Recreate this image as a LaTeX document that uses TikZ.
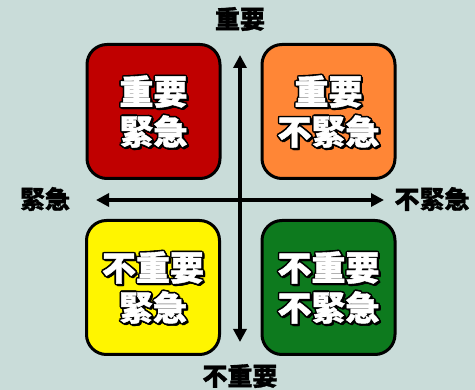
\documentclass[tikz,border=0pt]{standalone}
\usepackage{fontspec}
\newfontfamily\cjk{Noto Sans CJK TC}[FakeBold=1.2]
\usetikzlibrary{arrows.meta,calc}
\definecolor{bg}{HTML}{C9DCD9}
\definecolor{qred}{HTML}{C00000}
\definecolor{qorange}{HTML}{FF8636}
\definecolor{qyellow}{HTML}{FFF500}
\definecolor{qgreen}{HTML}{0D7A1E}
\tikzset{
  quad/.style={draw=black,line width=3pt,rounded corners=20pt,minimum width=133pt,minimum height=134pt,inner sep=0pt},
  qtext/.style={font=\cjk\bfseries\fontsize{34}{40}\selectfont,align=center,inner sep=0pt},
  axlabel/.style={font=\cjk\bfseries\fontsize{25}{25}\selectfont,text=black,inner sep=0pt},
  axis/.style={line width=3.2pt,{Triangle[length=13pt,width=13pt]}-{Triangle[length=13pt,width=13pt]}}
}
\newcommand\qlabel[3]{%
  \foreach \dx/\dy [count=\k] in {-1.6/0,1.6/0,0/-1.6,0/1.6,-1.2/-1.2,1.2/1.2,-1.2/1.2,1.2/-1.2,2.2/2.2,2.2/1,1/2.2}{
    \node[qtext,text=black] (#1-\k) at ($(#2)+(\dx,\dy)$) {#3};}
  \node[qtext,text=white] (#1) at (#2) {#3};}
\begin{document}
\begin{tikzpicture}[x=1pt,y=-1pt]
\fill[bg] (0,0) rectangle (475,390);
\useasboundingbox (0,0) rectangle (475,390);
\node[quad,fill=qred] (red) at (153.5,111.5) {};
\node[quad,fill=qorange] (orange) at (328.5,111.5) {};
\node[quad,fill=qyellow] (yellow) at (153,287.5) {};
\node[quad,fill=qgreen] (green) at (328.5,287.5) {};
\qlabel{tred}{red}{重要\\緊急}
\qlabel{torange}{orange}{重要\\不緊急}
\qlabel{tyellow}{yellow}{不重要\\緊急}
\qlabel{tgreen}{green}{不重要\\不緊急}
\coordinate (top) at (240,55);
\coordinate (bottom) at (240,342);
\coordinate (left) at (96,200);
\coordinate (right) at (384,200);
\draw[axis] (top) -- (bottom);
\draw[axis] (left) -- (right);
\node[axlabel] (limp) at (240,19) {重要};
\node[axlabel] (lnimp) at (240,376) {不重要};
\node[axlabel] (lurg) at (45,199) {緊急};
\node[axlabel] (lnurg) at (432,199) {不緊急};
\end{tikzpicture}
\end{document}
